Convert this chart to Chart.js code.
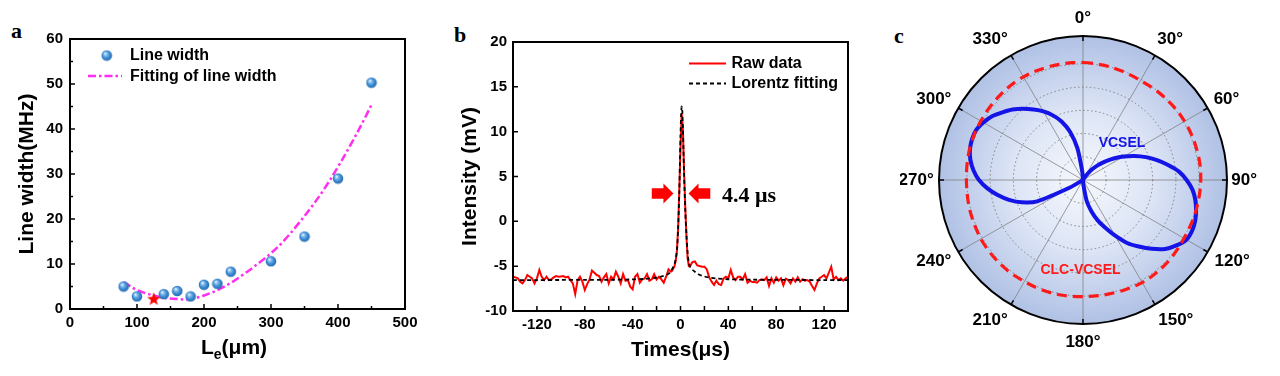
<!DOCTYPE html>
<html><head><meta charset="utf-8">
<script src="https://cdn.jsdelivr.net/npm/chart.js@4.4.0/dist/chart.umd.min.js"></script>
<style>
html,body{margin:0;padding:0;background:#fff;width:1280px;height:376px;overflow:hidden;position:relative;}
canvas{position:absolute;top:0;}
.lbl{position:absolute;font-family:"Liberation Serif","Times New Roman",serif;font-weight:bold;font-size:22px;line-height:22px;color:#000;}
</style></head><body>
<div class="lbl" style="left:11px;top:20px">a</div>
<div class="lbl" style="left:454px;top:24px">b</div>
<div class="lbl" style="left:894px;top:25px">c</div>
<canvas id="ca" width="430" height="376" style="left:0px"></canvas>
<canvas id="cb" width="440" height="376" style="left:430px"></canvas>
<canvas id="cc" width="380" height="376" style="left:900px"></canvas>
<script>
// ---------------- DATA ----------------
// Panel a
const lengthUm = [80, 100, 140, 160, 180, 200, 220, 240, 300, 350, 400, 450];
const lineWidthMHz = [5.0, 2.8, 3.3, 4.0, 2.8, 5.4, 5.6, 8.3, 10.6, 16.1, 29.0, 50.3];
const optimumLength = [125];
const optimumWidth = [2.3];
const fitLength = [80, 100, 120, 140, 160, 180, 200, 220, 240, 260, 280, 300, 320, 340, 360, 380, 400, 420, 440, 450];
const fitWidth = [6.0, 4.2, 3.2, 2.5, 2.2, 2.2, 3.0, 4.2, 5.8, 7.8, 10.0, 12.4, 15.3, 18.8, 22.6, 26.8, 31.6, 36.8, 42.4, 45.4];

// Panel b
const rawTimes = [-140,-138,-136,-134,-132,-130,-128,-126,-124,-122,
 -120,-118,-116,-114,-112,-110,-108,-106,-104,-102,
 -100,-98,-96,-94,-92,-90,-88,-86,-84,-82,
 -80,-78,-76,-74,-72,-70,-68,-66,-64,-62,
 -60,-58,-56,-54,-52,-50,-48,-46,-44,-42,
 -40,-38,-36,-34,-32,-30,-28,-26,-24,-22,
 -20,-18,-16,-14,-12,-10,
 -8,-7,-6,-5,-4,-3,-2,-1,0,1,2,3,4,5,6,7,8,
 10,12,14,16,18,20,22,24,26,28,
 30,32,34,36,38,40,42,44,46,48,
 50,52,54,56,58,60,62,64,66,68,
 70,72,74,76,78,80,82,84,86,88,
 90,92,94,96,98,100,102,104,106,108,
 110,112,114,116,118,120,122,124,126,128,
 130,132,134,136,138,140];
const rawIntensity = [-6.18,-6.25,-6.36,-6.73,-6.92,-6.55,-5.99,-6.18,-6.36,-6.92,
 -6.36,-5.43,-6.18,-6.55,-6.18,-6.55,-6.47,-6.25,-6.10,-6.18,
 -6.14,-6.10,-6.25,-6.18,-6.55,-6.92,-8.11,-6.55,-6.18,-6.73,
 -7.66,-7.00,-6.47,-5.50,-5.73,-5.99,-6.10,-6.73,-6.25,-5.88,
 -6.92,-6.18,-6.47,-5.62,-6.18,-6.92,-5.88,-6.62,-6.55,-7.29,
 -7.59,-6.18,-5.88,-6.84,-6.47,-6.36,-5.88,-6.62,-6.47,-5.88,
 -6.47,-6.18,-6.47,-6.84,-6.18,-5.36,
 -5.62,-5.50,-5.25,-5.00,-4.40,-3.30,-0.80,3.50,8.20,12.00,10.20,5.50,1.50,-1.80,-4.20,-5.00,-4.99,
 -4.54,-4.47,-4.91,-4.99,-5.06,-5.06,-5.36,-6.25,-6.73,-7.10,
 -6.62,-7.00,-7.10,-6.36,-6.18,-6.36,-5.43,-6.25,-6.55,-6.18,
 -6.18,-6.47,-5.88,-6.84,-6.62,-6.77,-6.77,-6.84,-6.55,-6.47,
 -6.55,-6.25,-7.21,-6.36,-6.84,-6.25,-6.62,-6.36,-7.14,-6.40,
 -6.55,-6.92,-6.36,-6.73,-6.25,-6.73,-6.47,-6.62,-6.55,-6.73,
 -7.21,-7.66,-6.92,-6.36,-6.18,-5.99,-6.36,-5.73,-5.06,-6.47,
 -6.18,-6.55,-6.36,-6.62,-6.36,-6.18];
const fitTimes = [-140,-120,-100,-80,-60,-40,-30,-20,-15,-10,-8,-6,-5,-4,-3,-2,-1,-0.5,0,0.5,1,1.5,2,2.5,3,4,5,6,7,8,10,12,15,20,25,30,40,60,80,100,120,140];
const fitIntensity = [-6.55,-6.55,-6.54,-6.53,-6.52,-6.48,-6.42,-6.28,-6.12,-5.85,-5.55,-5.05,-4.75,-4.2,-3.3,-0.9,3.2,6.5,9.6,11.8,12.8,12.3,10.4,7.9,5.3,1.2,-1.5,-3.6,-4.6,-5.05,-5.4,-5.62,-5.9,-6.15,-6.3,-6.38,-6.46,-6.51,-6.53,-6.54,-6.55,-6.55];

// Panel c
const polarAngles = ['0°','5°','10°','15°','20°','25°','30°','35°','40°','45°','50°','55°',
 '60°','65°','70°','75°','80°','85°','90°','95°','100°','105°','110°','115°',
 '120°','125°','130°','135°','140°','145°','150°','155°','160°','165°','170°','175°',
 '180°','185°','190°','195°','200°','205°','210°','215°','220°','225°','230°','235°',
 '240°','245°','250°','255°','260°','265°','270°','275°','280°','285°','290°','295°',
 '300°','305°','310°','315°','320°','325°','330°','335°','340°','345°','350°','355°'];
const vcselIntensity = [0,0,0,0,0,0,0,0.22,0.57,0.89,1.23,1.61,
 2.02,2.45,2.88,3.30,3.72,4.15,4.46,4.73,4.91,5.04,5.14,5.18,
 5.14,4.91,4.62,4.19,3.74,3.31,2.77,2.27,1.85,1.39,0.92,0.22,
 0,0,0,0,0,0,0,0,0,0,0,0,
 0.65,2.17,2.81,3.30,3.73,4.13,4.48,4.73,4.92,5.04,5.09,5.08,
 4.95,4.78,4.53,4.29,4.00,3.70,3.41,3.07,2.67,2.14,1.39,0.36];
const clcIntensity = [5.06,5.04,5.02,5.00,4.98,4.96,4.95,4.96,4.98,5.00,5.02,5.04,
 5.05,5.06,5.07,5.07,5.08,5.08,5.07,5.06,5.05,5.04,5.03,5.02,
 5.02,5.04,5.06,5.08,5.09,5.10,5.10,5.08,5.06,5.04,5.03,5.02,
 5.02,5.03,5.04,5.05,5.05,5.05,5.05,5.06,5.07,5.08,5.08,5.08,
 5.08,5.06,5.05,5.04,5.03,5.02,5.02,5.03,5.05,5.06,5.07,5.08,
 5.08,5.09,5.10,5.11,5.12,5.13,5.13,5.12,5.10,5.09,5.08,5.07];

// ---------------- STYLE ----------------
const FF = '"Liberation Sans", Arial, Helvetica, sans-serif';
const SERIF = '"Liberation Serif", "Times New Roman", serif';
Chart.defaults.font.family = FF;
Chart.defaults.font.weight = 'bold';
Chart.defaults.color = '#000';
const tickFont = {size: 15, weight: 'bold', family: FF};
const titleFont = {size: 21, weight: 'bold', family: FF};

// sphere marker
const sphere = document.createElement('canvas');
sphere.width = 12; sphere.height = 12;
(function(){
  const c = sphere.getContext('2d');
  const g = c.createRadialGradient(4.3, 4.0, 0.3, 6, 6, 6);
  g.addColorStop(0, '#f2f8ff');
  g.addColorStop(0.22, '#8cc2ef');
  g.addColorStop(0.55, '#3f8fd6');
  g.addColorStop(1, '#1f5fa6');
  c.fillStyle = g; c.beginPath(); c.arc(6, 6, 5.3, 0, Math.PI * 2); c.fill();
})();
// star marker
const star = document.createElement('canvas');
star.width = 16; star.height = 16;
(function(){
  const c = star.getContext('2d');
  c.fillStyle = '#ff0000';
  c.beginPath();
  for (let i = 0; i < 10; i++) {
    const rr = i % 2 === 0 ? 7 : 2.9;
    const a = -Math.PI / 2 + i * Math.PI / 5;
    const px = 8 + rr * Math.cos(a), py = 8.6 + rr * Math.sin(a);
    if (i === 0) c.moveTo(px, py); else c.lineTo(px, py);
  }
  c.closePath(); c.fill();
})();

function drawFrameAndTicks(chart, xMinor, yMinor) {
  const {ctx, chartArea: a, scales: {x, y}} = chart;
  ctx.save();
  ctx.strokeStyle = '#000';
  ctx.lineWidth = 1.5;
  ctx.beginPath();
  x.ticks.forEach(t => {
    const p = x.getPixelForValue(t.value);
    ctx.moveTo(p, a.bottom); ctx.lineTo(p, a.bottom - 5);
  });
  y.ticks.forEach(t => {
    const p = y.getPixelForValue(t.value);
    ctx.moveTo(a.left, p); ctx.lineTo(a.left + 5, p);
  });
  if (xMinor) {
    for (let i = 0; i < x.ticks.length - 1; i++) {
      const p = x.getPixelForValue((x.ticks[i].value + x.ticks[i + 1].value) / 2);
      ctx.moveTo(p, a.bottom); ctx.lineTo(p, a.bottom - 3);
    }
  }
  if (yMinor) {
    for (let i = 0; i < y.ticks.length - 1; i++) {
      const p = y.getPixelForValue((y.ticks[i].value + y.ticks[i + 1].value) / 2);
      ctx.moveTo(a.left, p); ctx.lineTo(a.left + 3, p);
    }
  }
  ctx.stroke();
  ctx.lineWidth = 2;
  ctx.strokeRect(a.left, a.top, a.right - a.left, a.bottom - a.top);
  ctx.restore();
}

// ---------------- PANEL A ----------------
const panelAPlugin = {
  id: 'panelA',
  afterDraw(chart) {
    drawFrameAndTicks(chart, true, true);
    const ctx = chart.ctx;
    ctx.save();
    // legend
    ctx.drawImage(sphere, 106.7 - 6, 55.5 - 6);
    ctx.strokeStyle = '#ff2ef0'; ctx.lineWidth = 2.5; ctx.setLineDash([8, 3, 2.5, 3]);
    ctx.beginPath(); ctx.moveTo(88, 76); ctx.lineTo(122, 76); ctx.stroke();
    ctx.setLineDash([]);
    ctx.fillStyle = '#000';
    ctx.font = 'bold 16px ' + FF;
    ctx.textBaseline = 'middle'; ctx.textAlign = 'left';
    ctx.fillText('Line width', 130, 55.5);
    ctx.fillText('Fitting of line width', 130, 76.5);
    // x title with subscript
    const big = 'bold 21px ' + FF, small = 'bold 14px ' + FF;
    ctx.textBaseline = 'alphabetic';
    ctx.font = big; const wL = ctx.measureText('L').width; const wR = ctx.measureText('(μm)').width;
    ctx.font = small; const wE = ctx.measureText('e').width;
    let sx = 234 - (wL + wE + wR) / 2;
    ctx.font = big; ctx.fillText('L', sx, 354);
    ctx.font = small; ctx.fillText('e', sx + wL, 359);
    ctx.font = big; ctx.fillText('(μm)', sx + wL + wE, 354);
    ctx.restore();
  }
};

new Chart(document.getElementById('ca'), {
  type: 'scatter',
  data: {
    datasets: [
      {label: 'Fitting of line width', data: fitLength.map((v, i) => ({x: v, y: fitWidth[i]})),
       showLine: true, borderColor: '#ff2ef0', borderWidth: 2.5, borderDash: [8, 3, 2.5, 3],
       pointRadius: 0, tension: 0.35, order: 3},
      {label: 'Line width', data: lengthUm.map((v, i) => ({x: v, y: lineWidthMHz[i]})),
       pointStyle: sphere, pointRadius: 6, order: 2},
      {label: 'Optimum', data: optimumLength.map((v, i) => ({x: v, y: optimumWidth[i]})),
       pointStyle: star, pointRadius: 8, order: 1}
    ]
  },
  options: {
    responsive: false, animation: false, devicePixelRatio: 1,
    layout: {padding: {left: 0, right: 25, top: 39, bottom: 0}},
    plugins: {legend: {display: false}, tooltip: {enabled: false}},
    scales: {
      x: {type: 'linear', min: 0, max: 500,
          ticks: {stepSize: 100, font: tickFont, color: '#000', padding: 5, maxRotation: 0, autoSkip: false},
          grid: {display: false, drawTicks: false}, border: {display: false},
          afterFit: s => { s.height = 67; }},
      y: {type: 'linear', min: 0, max: 60,
          ticks: {stepSize: 10, font: tickFont, color: '#000', padding: 7},
          grid: {display: false, drawTicks: false}, border: {display: false},
          title: {display: true, text: 'Line width(MHz)', font: titleFont, color: '#000', padding: {top: 15, bottom: 0}},
          afterFit: s => { s.width = 70; }}
    }
  },
  plugins: [panelAPlugin]
});

// ---------------- PANEL B ----------------
function drawArrow(ctx, tailX, tipX, y, dir) {
  const headL = 10, headH = 20, shaftH = 10.5;
  const baseX = tipX - dir * headL;
  ctx.beginPath();
  ctx.moveTo(tailX, y - shaftH / 2);
  ctx.lineTo(baseX, y - shaftH / 2);
  ctx.lineTo(baseX, y - headH / 2);
  ctx.lineTo(tipX, y);
  ctx.lineTo(baseX, y + headH / 2);
  ctx.lineTo(baseX, y + shaftH / 2);
  ctx.lineTo(tailX, y + shaftH / 2);
  ctx.closePath();
  ctx.fill();
}
const panelBPlugin = {
  id: 'panelB',
  afterDraw(chart) {
    drawFrameAndTicks(chart, false, false);
    const {ctx, scales: {x, y}} = chart;
    ctx.save();
    // FWHM arrows and label
    ctx.fillStyle = '#ff0000';
    const ay = y.getPixelForValue(3.1);
    drawArrow(ctx, x.getPixelForValue(-24), x.getPixelForValue(-5.9), ay, 1);
    drawArrow(ctx, x.getPixelForValue(24.9), x.getPixelForValue(6.7), ay, -1);
    ctx.fillStyle = '#000';
    ctx.font = 'bold 22px ' + SERIF;
    ctx.textAlign = 'left'; ctx.textBaseline = 'alphabetic';
    ctx.fillText('4.4 μs', x.getPixelForValue(34.7), y.getPixelForValue(2.17));
    // legend (canvas-relative coordinates)
    const ox = -430;
    ctx.lineWidth = 2; ctx.strokeStyle = '#ff0000';
    ctx.beginPath(); ctx.moveTo(689 + ox, 63.5); ctx.lineTo(726 + ox, 63.5); ctx.stroke();
    ctx.strokeStyle = '#000'; ctx.setLineDash([4, 3]);
    ctx.beginPath(); ctx.moveTo(689 + ox, 83.5); ctx.lineTo(726 + ox, 83.5); ctx.stroke();
    ctx.setLineDash([]);
    ctx.font = 'bold 16px ' + FF; ctx.textBaseline = 'middle';
    ctx.fillText('Raw data', 731.5 + ox, 63.5);
    ctx.fillText('Lorentz fitting', 731.5 + ox, 83.5);
    ctx.restore();
  }
};

new Chart(document.getElementById('cb'), {
  type: 'scatter',
  data: {
    datasets: [
      {label: 'Lorentz fitting', data: fitTimes.map((v, i) => ({x: v, y: fitIntensity[i]})),
       showLine: true, borderColor: '#000', borderWidth: 1.8, borderDash: [4, 3],
       pointRadius: 0, tension: 0.3, order: 1},
      {label: 'Raw data', data: rawTimes.map((v, i) => ({x: v, y: rawIntensity[i]})),
       showLine: true, borderColor: '#ff0000', borderWidth: 2,
       pointRadius: 0, tension: 0, order: 2}
    ]
  },
  options: {
    responsive: false, animation: false, devicePixelRatio: 1,
    layout: {padding: {left: 0, right: 22, top: 42, bottom: 0}},
    plugins: {legend: {display: false}, tooltip: {enabled: false}},
    scales: {
      x: {type: 'linear', min: -140, max: 140,
          ticks: {stepSize: 20, font: tickFont, color: '#000', padding: 5, maxRotation: 0, autoSkip: false,
                  callback: v => (v % 40 === 0 && Math.abs(v) < 140) ? String(v) : ''},
          grid: {display: false, drawTicks: false}, border: {display: false},
          title: {display: true, text: 'Times(μs)', font: titleFont, color: '#000', padding: {top: 0, bottom: 13}},
          afterFit: s => { s.height = 65; }},
      y: {type: 'linear', min: -10, max: 20,
          ticks: {stepSize: 5, font: tickFont, color: '#000', padding: 6},
          grid: {display: false, drawTicks: false}, border: {display: false},
          title: {display: true, text: 'Intensity (mV)', font: titleFont, color: '#000', padding: {top: 28, bottom: 0}},
          afterFit: s => { s.width = 83; }}
    }
  },
  plugins: [panelBPlugin]
});

// ---------------- PANEL C ----------------
const polarPlugin = {
  id: 'polarDeco',
  beforeDraw(chart) {
    const r = chart.scales.r, ctx = chart.ctx;
    const cx = r.xCenter, cy = r.yCenter, R = r.drawingArea;
    const g = ctx.createRadialGradient(cx, cy, 0, cx, cy, R);
    g.addColorStop(0, 'rgb(246,248,253)');
    g.addColorStop(0.5, 'rgb(220,228,245)');
    g.addColorStop(1, 'rgb(176,193,229)');
    ctx.save();
    ctx.beginPath(); ctx.arc(cx, cy, R, 0, Math.PI * 2);
    ctx.fillStyle = g; ctx.fill();
    ctx.restore();
  },
  afterDraw(chart) {
    const r = chart.scales.r, ctx = chart.ctx;
    const cx = r.xCenter, cy = r.yCenter, R = r.drawingArea;
    ctx.save();
    ctx.strokeStyle = '#000'; ctx.lineWidth = 2;
    ctx.beginPath(); ctx.arc(cx, cy, R, 0, Math.PI * 2); ctx.stroke();
    ctx.lineWidth = 1.5;
    ctx.beginPath();
    for (let i = 0; i < polarAngles.length; i += 6) {
      const a = r.getIndexAngle(i) - Math.PI / 2;
      ctx.moveTo(cx + (R - 5) * Math.cos(a), cy + (R - 5) * Math.sin(a));
      ctx.lineTo(cx + R * Math.cos(a), cy + R * Math.sin(a));
    }
    ctx.stroke();
    // angle labels
    ctx.fillStyle = '#000';
    ctx.font = 'bold 17px ' + FF;
    ctx.textAlign = 'center'; ctx.textBaseline = 'middle';
    for (let i = 0; i < polarAngles.length; i += 6) {
      const th = r.getIndexAngle(i);
      const s = Math.sin(th), c = Math.cos(th);
      const w = ctx.measureText(polarAngles[i]).width;
      const sg = Math.abs(s) < 1e-6 ? 0 : Math.sign(s);
      const px = cx + 162 * s + sg * ((w - 27) * 0.6 + 8 * Math.abs(c));
      const py = cy - 162 * c;
      ctx.fillText(polarAngles[i], px, py);
    }
    // series labels
    ctx.font = 'bold 14px ' + FF;
    ctx.fillStyle = '#1414e6';
    ctx.fillText('VCSEL', cx + 39, cy - 37);
    ctx.fillStyle = '#ff1a1a';
    ctx.fillText('CLC-VCSEL', cx - 2.5, cy + 90);
    ctx.restore();
  }
};

new Chart(document.getElementById('cc'), {
  type: 'radar',
  data: {
    labels: polarAngles,
    datasets: [
      {label: 'CLC-VCSEL', data: clcIntensity, borderColor: '#ff1a1a', borderWidth: 3.2,
       borderDash: [10, 6], fill: false, pointRadius: 0, tension: 0.2},
      {label: 'VCSEL', data: vcselIntensity, borderColor: '#1414e6', borderWidth: 4,
       fill: false, pointRadius: 0, tension: 0.2}
    ]
  },
  options: {
    responsive: false, animation: false, devicePixelRatio: 1,
    layout: {padding: {left: 39, right: 53, top: 36, bottom: 52}},
    plugins: {legend: {display: false}, tooltip: {enabled: false}},
    scales: {
      r: {min: 0, max: 6.2, beginAtZero: true,
          ticks: {display: false, stepSize: 1},
          pointLabels: {display: false},
          grid: {circular: true, lineWidth: 1,
                 color: c => (c.tick && c.tick.value > 0 && c.tick.value <= 5) ? 'rgba(110,110,110,0.8)' : 'rgba(0,0,0,0)'},
          border: {dash: [1.5, 2.5]},
          angleLines: {lineWidth: 0.8,
                       color: c => (c.index % 6 === 0) ? 'rgba(120,120,120,0.9)' : 'rgba(0,0,0,0)'}}
    }
  },
  plugins: [polarPlugin]
});
</script>
</body></html>
